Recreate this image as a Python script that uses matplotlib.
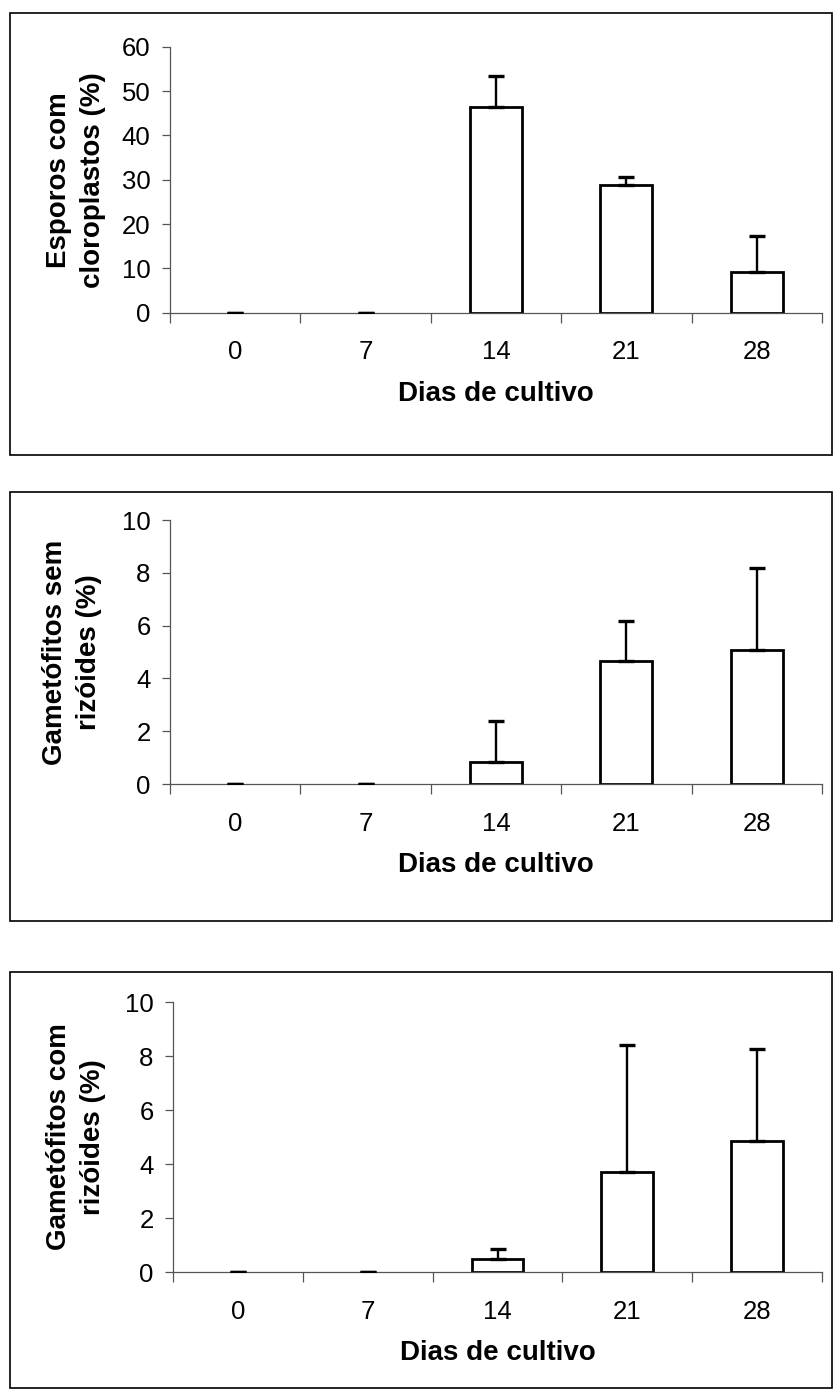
import matplotlib
matplotlib.use("Agg")
import matplotlib.pyplot as plt
from matplotlib.patches import Rectangle

plt.rcParams['font.family'] = ['Liberation Sans', 'DejaVu Sans']

# dados
dias = ['0', '7', '14', '21', '28']

esporos = [0, 0, 46.4, 28.8, 9.1]
esporos_dp = [0, 0, 7.1, 1.8, 8.3]

sem_rizoides = [0, 0, 0.85, 4.67, 5.06]
sem_rizoides_dp = [0, 0, 1.55, 1.5, 3.12]

com_rizoides = [0, 0, 0.5, 3.72, 4.85]
com_rizoides_dp = [0, 0, 0.35, 4.68, 3.42]

ylabels = ['Esporos com\ncloroplastos (%)',
           'Gametófitos sem\nrizóides (%)',
           'Gametófitos com\nrizóides (%)']

W, H = 840, 1400


def painel(fig, rect, valores, dp, ylabel, ymax, ystep, label_x):
    ax = fig.add_axes(rect)
    x = range(len(dias))
    lw = [0 if v == 0 else 2.0 for v in valores]
    ax.bar(x, valores, width=0.4, color='white', edgecolor='black', linewidth=lw, zorder=2)
    ax.errorbar(x, valores, yerr=[[0] * len(dp), dp], fmt='none', ecolor='black',
                elinewidth=1.7, capsize=5.5, capthick=2.4, zorder=3)

    ax.set_xlim(-0.5, len(dias) - 0.5)
    ax.set_ylim(0, ymax)
    ax.set_yticks(range(0, ymax + 1, ystep))
    ax.set_xticks([i - 0.5 for i in range(len(dias) + 1)])
    ax.set_xticklabels([])
    ax.set_xticks(list(x), dias, minor=True)
    ax.tick_params(axis='x', which='major', direction='out', length=7, width=0.9, color='#555555')
    ax.tick_params(axis='x', which='minor', length=0, pad=20, labelsize=18.5)
    ax.tick_params(axis='y', direction='out', length=6, width=0.9, color='#555555',
                   pad=8, labelsize=18.5)

    for s in ['top', 'right']:
        ax.spines[s].set_visible(False)
    for s in ['left', 'bottom']:
        ax.spines[s].set_color('#555555')
        ax.spines[s].set_linewidth(0.9)
    ax.spines['left'].set_zorder(4)

    ax.set_xlabel('Dias de cultivo', fontsize=20, fontweight='bold', labelpad=12)
    ax.set_ylabel(ylabel, fontsize=20, fontweight='bold', linespacing=1.4)
    ax.yaxis.set_label_coords(label_x, 0.5)
    return ax


fig = plt.figure(figsize=(W / 100, H / 100), dpi=100)

# caixas em volta de cada painel
for y0, y1 in [(13, 455), (492, 921), (972, 1388)]:
    fig.patches.append(Rectangle((10 / W, 1 - y1 / H), 822 / W, (y1 - y0) / H,
                                 transform=fig.transFigure, fill=False,
                                 edgecolor='black', linewidth=1.2))

painel(fig, [170 / W, 1 - 312.7 / H, 652 / W, 266 / H], esporos, esporos_dp,
       ylabels[0], 60, 10, -0.098)
painel(fig, [170 / W, 1 - 784 / H, 652 / W, 264 / H], sem_rizoides, sem_rizoides_dp,
       ylabels[1], 10, 2, -0.105)
painel(fig, [173 / W, 1 - 1272 / H, 649 / W, 270 / H], com_rizoides, com_rizoides_dp,
       ylabels[2], 10, 2, -0.104)

fig.savefig('out.png', dpi=100)
